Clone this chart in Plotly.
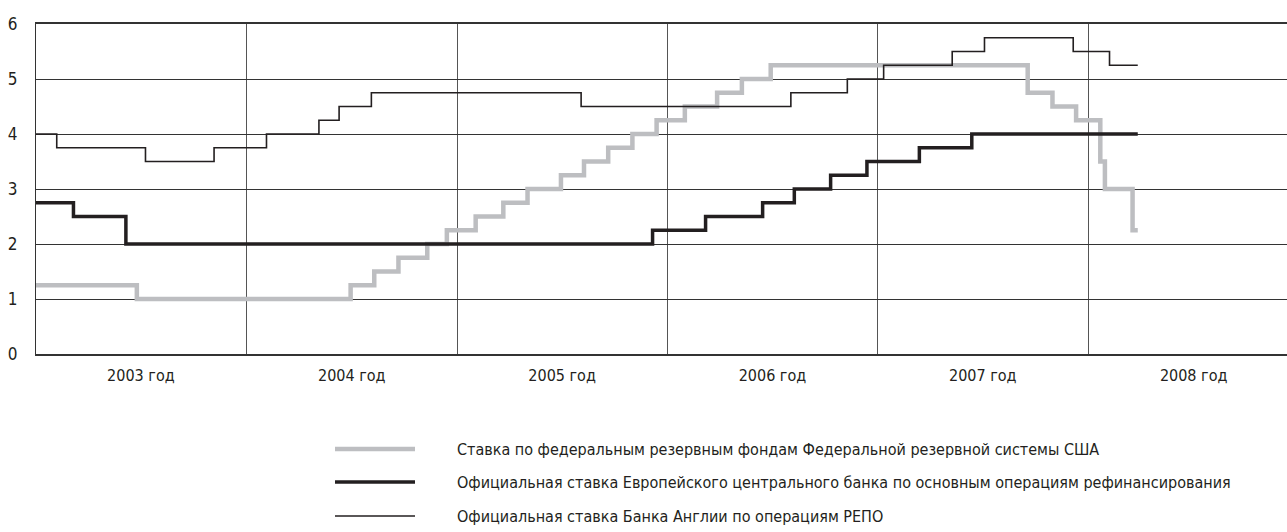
import plotly.graph_objects as go

# ---- data ----
fed_dates = ["2003-01-01", "2003-06-25", "2004-06-30", "2004-08-10", "2004-09-21", "2004-11-10",
             "2004-12-14", "2005-02-02", "2005-03-22", "2005-05-03", "2005-06-30", "2005-08-09",
             "2005-09-20", "2005-11-01", "2005-12-13", "2006-01-31", "2006-03-28", "2006-05-10",
             "2006-06-29", "2007-09-18", "2007-10-31", "2007-12-11", "2008-01-22", "2008-01-30",
             "2008-03-18", "2008-03-27"]
fed_vals = [1.25, 1.00, 1.25, 1.50, 1.75, 2.00, 2.25, 2.50, 2.75, 3.00, 3.25, 3.50, 3.75, 4.00,
            4.25, 4.50, 4.75, 5.00, 5.25, 4.75, 4.50, 4.25, 3.50, 3.00, 2.25, 2.25]

ecb_dates = ["2003-01-01", "2003-03-07", "2003-06-06", "2005-12-06", "2006-03-08", "2006-06-15",
             "2006-08-09", "2006-10-11", "2006-12-13", "2007-03-14", "2007-06-13", "2008-03-27"]
ecb_vals = [2.75, 2.50, 2.00, 2.25, 2.50, 2.75, 3.00, 3.25, 3.50, 3.75, 4.00, 4.00]

boe_dates = ["2003-01-01", "2003-02-06", "2003-07-10", "2003-11-06", "2004-02-05", "2004-05-06",
             "2004-06-10", "2004-08-05", "2005-08-04", "2006-08-03", "2006-11-09", "2007-01-11",
             "2007-05-10", "2007-07-05", "2007-12-06", "2008-02-07", "2008-03-27"]
boe_vals = [4.00, 3.75, 3.50, 3.75, 4.00, 4.25, 4.50, 4.75, 4.50, 4.75, 5.00, 5.25, 5.50, 5.75,
            5.50, 5.25, 5.25]

years = [2003, 2004, 2005, 2006, 2007, 2008]
year_labels = [f"{y} год" for y in years]
y_ticks = [0, 1, 2, 3, 4, 5, 6]

series_names = [
    "Ставка по федеральным резервным фондам Федеральной резервной системы США",
    "Официальная ставка Европейского центрального банка по основным операциям рефинансирования",
    "Официальная ставка Банка Англии по операциям РЕПО",
]

LIGHT = "#bdbec1"
DARK = "#231f20"
FONT = "DejaVu Sans Condensed, Liberation Sans Narrow, Roboto, sans-serif"

fig = go.Figure()
fig.add_trace(go.Scatter(x=fed_dates, y=fed_vals, mode="lines", line=dict(shape="hv", color=LIGHT, width=4.5),
                         name=series_names[0], showlegend=False))
fig.add_trace(go.Scatter(x=ecb_dates, y=ecb_vals, mode="lines", line=dict(shape="hv", color=DARK, width=3.5),
                         name=series_names[1], showlegend=False))
fig.add_trace(go.Scatter(x=boe_dates, y=boe_vals, mode="lines", line=dict(shape="hv", color=DARK, width=1.6),
                         name=series_names[2], showlegend=False))

W, H = 1287, 532
L, T, B = 36, 24, 178
plot_w = W - L
plot_h = H - T - B

fig.update_layout(
    width=W, height=H,
    margin=dict(l=L, r=0, t=T, b=B, pad=0, autoexpand=False),
    paper_bgcolor="white", plot_bgcolor="white",
    font=dict(family=FONT, size=16, color=DARK),
    showlegend=False,
    xaxis=dict(
        type="date",
        automargin=False,
        range=["2003-01-01", "2008-12-11"],
        tickmode="array",
        tickvals=[f"{y}-07-02" for y in years],
        ticktext=year_labels,
        ticks="",
        showgrid=False,
        zeroline=False,
        showline=True, linecolor="#333333", linewidth=2, mirror=True,
        tickfont=dict(size=16),
        ticklabelstandoff=6,
        minor=dict(tickmode="array", tickvals=[f"{y}-01-01" for y in years[1:]],
                   showgrid=True, gridcolor="#555555", gridwidth=1, ticks=""),
    ),
    yaxis=dict(
        range=[0, 6],
        automargin=False,
        tickmode="array",
        tickvals=y_ticks,
        ticktext=[str(v) for v in y_ticks],
        showgrid=True, gridcolor="#333333", gridwidth=1,
        zeroline=False,
        showline=True, linecolor="#333333", linewidth=1.2,
        ticks="", ticklabelstandoff=14,
        tickfont=dict(size=17),
    ),
)

# custom legend below the chart
leg_y = [449, 482, 516]
leg_styles = [(LIGHT, 4.5), (DARK, 3.5), (DARK, 1.6)]
for name, py, (col, w) in zip(series_names, leg_y, leg_styles):
    yp = (H - B - py) / plot_h
    x0 = (335 - L) / plot_w
    x1 = (415 - L) / plot_w
    fig.add_shape(type="line", xref="paper", yref="paper", x0=x0, x1=x1, y0=yp, y1=yp,
                  line=dict(color=col, width=w))
    fig.add_annotation(xref="paper", yref="paper", x=(455 - L) / plot_w, y=yp, text=name,
                       showarrow=False, xanchor="left", yanchor="middle",
                       font=dict(size=16, color=DARK, family=FONT))

fig.write_html("out.html",
               config={"displayModeBar": False},
               post_script="document.body.style.margin='0';document.body.style.overflow='hidden';")
